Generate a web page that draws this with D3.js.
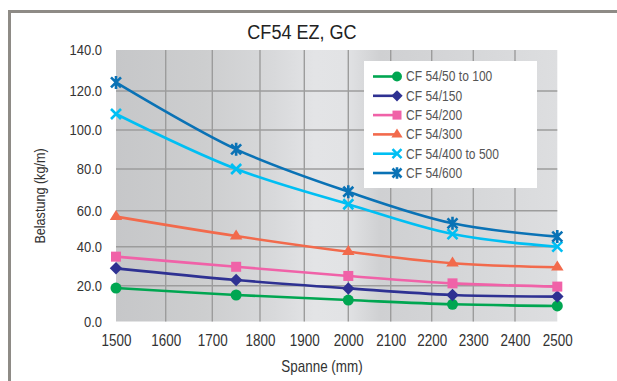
<!DOCTYPE html>
<html>
<head>
<meta charset="utf-8">
<script src="https://cdn.jsdelivr.net/npm/d3@7"></script>
<style>
  html, body { margin: 0; padding: 0; background: #fff; }
  svg { display: block; }
  text { font-family: "Liberation Sans", Arial, sans-serif; }
</style>
</head>
<body>
<svg id="chart" width="617" height="381"></svg>
<script>
// ---------------- data ----------------
const spans = [1500, 1750, 2000, 2250, 2500];
const s50to100 = [18.7, 14.8, 12.0, 9.6, 8.7];
const s150 = [28.9, 22.9, 18.5, 14.8, 13.9];
const s200 = [34.9, 29.7, 25.0, 21.2, 19.5];
const s300 = [56.7, 45.9, 37.4, 31.5, 29.5];
const s400to500 = [108.2, 80.0, 63.1, 47.0, 40.0];
const s600 = [124.2, 90.1, 69.1, 53.0, 45.6];
const seriesNames = ["CF 54/50 to 100", "CF 54/150", "CF 54/200", "CF 54/300", "CF 54/400 to 500", "CF 54/600"];
const xTicks = [1500, 1600, 1700, 1800, 1900, 2000, 2100, 2200, 2300, 2400, 2500];
const yTicks = [0, 20, 40, 60, 80, 100, 120, 140];
const title = "CF54 EZ, GC";
const xTitle = "Spanne (mm)";
const yTitle = "Belastung (kg/m)";

// ---------------- styles / layout ----------------
const colors = ["#00a651", "#2e3192", "#f062a8", "#f26a4c", "#00bff3", "#0a72b5"];
const symbols = ["circle", "diamond", "square", "triangle", "x", "star"];
const allSeries = [s50to100, s150, s200, s300, s400to500, s600];
const K = 0.84; // horizontal condensing of the narrow typeface

// calibrated (non-uniform) axis positions as measured in the original graphic
const xRange = [116, 165.7, 212.3, 260, 304.3, 348.3, 390.7, 431.7, 473.3, 515, 557.3];
const yRange = [321.5, 285.7, 246.7, 210.7, 169, 130, 91, 50];

const x = d3.scaleLinear().domain(xTicks).range(xRange);
const y = d3.scaleLinear().domain(yTicks).range(yRange);

const svg = d3.select("#chart");

function narrow(sel, k = K) {
  sel.each(function () {
    const t = d3.select(this);
    const ox = +(t.attr("x") || 0);
    t.attr("x", ox / k).attr("transform", `scale(${k},1)`);
  });
  return sel;
}

// frame
svg.append("path")
  .attr("d", "M9.5,381 V11.5 H617")
  .attr("fill", "none").attr("stroke", "#8e8b86").attr("stroke-width", 3);

// background gradient
const defs = svg.append("defs");
const grad = defs.append("linearGradient").attr("id", "bg")
  .attr("x1", "0%").attr("x2", "100%").attr("y1", "0%").attr("y2", "0%");
[[0, "#c6c7c9"], [0.2, "#cdcecf"], [0.36, "#d8d9db"], [0.45, "#e3e4e6"], [0.52, "#e2e3e5"],
 [0.6, "#cfd0d2"], [0.72, "#d3d4d6"], [1, "#dddee0"]].forEach(([o, c]) =>
  grad.append("stop").attr("offset", o).attr("stop-color", c));

const x0 = x(xTicks[0]), x1 = x(xTicks[xTicks.length - 1]);
const yb = y(0), yt = y(140);
svg.append("rect").attr("x", x0).attr("y", yt).attr("width", x1 - x0).attr("height", yb - yt)
  .attr("fill", "url(#bg)");

// grid
const grid = svg.append("g").attr("stroke", "#9c9c9c").attr("stroke-width", 1.4);
grid.selectAll(".gx").data(xTicks.slice(1, -1)).join("line")
  .attr("x1", d => x(d)).attr("x2", d => x(d)).attr("y1", yt).attr("y2", yb);
grid.selectAll(".gy").data(yTicks.slice(1, -1)).join("line")
  .attr("x1", x0).attr("x2", x1).attr("y1", d => y(d)).attr("y2", d => y(d));

// axes (labels only)
const xAxis = d3.axisBottom(x).tickValues(xTicks).tickSize(0).tickPadding(13).tickFormat(d3.format("d"));
const gx = svg.append("g").attr("transform", `translate(0,${yb})`).call(xAxis);
gx.select(".domain").remove();
narrow(gx.selectAll("text").attr("font-size", 16).attr("fill", "#333").attr("font-family", null));

const yAxis = d3.axisLeft(y).tickValues(yTicks).tickSize(0).tickPadding(14).tickFormat(d3.format(".1f"));
const gy = svg.append("g").attr("transform", `translate(${x0},0)`).call(yAxis);
gy.select(".domain").remove();
narrow(gy.selectAll("text").attr("font-size", 15.5).attr("fill", "#333").attr("font-family", null));

// titles
narrow(svg.append("text").attr("x", 302).attr("y", 39).attr("text-anchor", "middle")
  .attr("font-size", 21).attr("fill", "#222").text(title), 0.86);
narrow(svg.append("text").attr("x", 322).attr("y", 372).attr("text-anchor", "middle")
  .attr("font-size", 16).attr("fill", "#333").text(xTitle));
svg.append("g").attr("transform", "translate(45,196) rotate(-90)")
  .append("text").attr("text-anchor", "middle").attr("transform", `scale(${K},1)`)
  .attr("font-size", 15).attr("fill", "#333").text(yTitle);

// marker drawing
function marker(g, type, color, s) {
  if (type === "x") {
    g.append("path").attr("d", `M${-s},${-s}L${s},${s}M${-s},${s}L${s},${-s}`)
      .attr("stroke", color).attr("stroke-width", 2.6).attr("fill", "none");
  } else if (type === "star") {
    g.append("path").attr("d", `M${-s},${-s}L${s},${s}M${-s},${s}L${s},${-s}M0,${-s * 1.3}L0,${s * 1.3}`)
      .attr("stroke", color).attr("stroke-width", 2.6).attr("fill", "none");
  } else if (type === "diamond") {
    const r = s * 1.25;
    g.append("path").attr("d", `M0,${-r}L${r},0L0,${r}L${-r},0Z`).attr("fill", color);
  } else if (type === "circle") {
    g.append("circle").attr("r", s * 1.1).attr("fill", color);
  } else if (type === "square") {
    g.append("rect").attr("x", -s).attr("y", -s).attr("width", 2 * s).attr("height", 2 * s).attr("fill", color);
  } else if (type === "triangle") {
    const w = s * 1.25, h = s * 2;
    g.append("path").attr("d", `M0,${-h * 2 / 3}L${w},${h / 3}L${-w},${h / 3}Z`).attr("fill", color);
  }
}

// series
const line = d3.line().x(d => x(d[0])).y(d => y(d[1])).curve(d3.curveCatmullRom.alpha(0.5));
allSeries.forEach((vals, i) => {
  const pts = spans.map((s, k) => [s, vals[k]]);
  const g = svg.append("g");
  g.append("path").datum(pts).attr("d", line).attr("fill", "none")
    .attr("stroke", colors[i]).attr("stroke-width", 2.6);
  pts.forEach(p => {
    const m = g.append("g").attr("transform", `translate(${x(p[0])},${y(p[1])})`);
    marker(m, symbols[i], colors[i], 5);
  });
});

// legend
const lg = svg.append("g").attr("transform", "translate(364,61)");
lg.append("rect").attr("width", 173).attr("height", 127).attr("fill", "#fff");
seriesNames.forEach((name, i) => {
  const row = lg.append("g").attr("transform", `translate(0,${15.5 + i * 19.3})`);
  row.append("line").attr("x1", 9).attr("x2", 33).attr("stroke", colors[i]).attr("stroke-width", 2.6);
  const m = row.append("g").attr("transform", "translate(33,0)");
  marker(m, symbols[i], colors[i], 4.5);
  narrow(row.append("text").attr("x", 42).attr("y", 0).attr("dy", "0.35em")
    .attr("font-size", 14).attr("fill", "#555").text(name), 0.86);
});
</script>
</body>
</html>
